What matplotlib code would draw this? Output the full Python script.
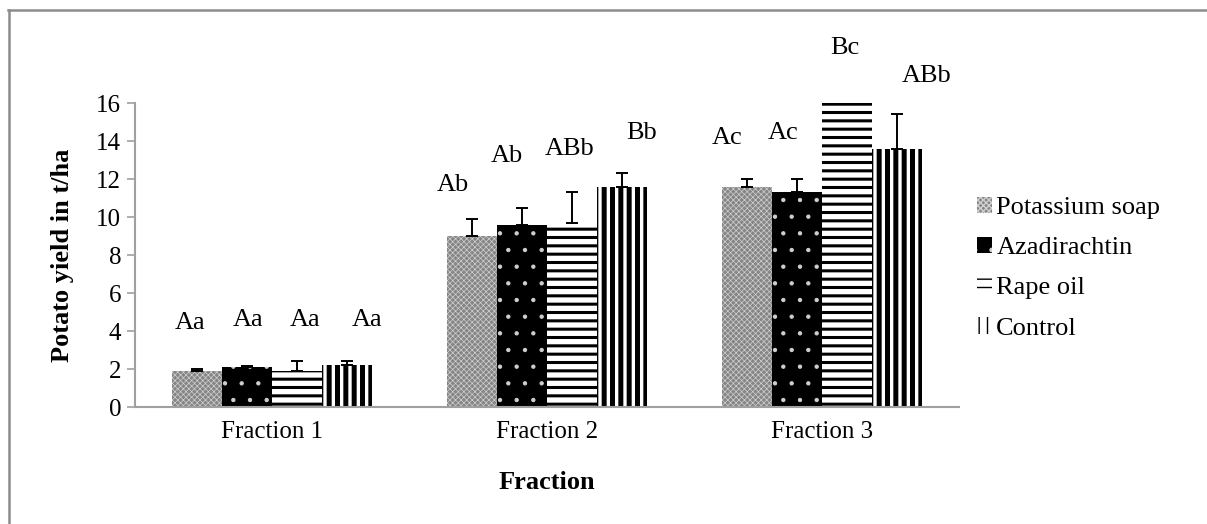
import matplotlib
matplotlib.use("Agg")
import matplotlib.pyplot as plt
import numpy as np

# ---- data ----
categories = ["Fraction 1", "Fraction 2", "Fraction 3"]
series = ["Potassium soap", "Azadirachtin", "Rape oil", "Control"]
potassium_soap = [1.9, 9.0, 11.6]
azadirachtin = [2.1, 9.6, 11.3]
rape_oil = [1.9, 9.7, 16.0]
control = [2.2, 11.6, 13.6]
potassium_soap_err = [0.1, 0.9, 0.4]
azadirachtin_err = [0.08, 0.85, 0.7]
rape_oil_err = [0.5, 1.6, 0.0]
control_err = [0.2, 0.7, 1.8]
labels_ps = ["Aa", "Ab", "Ac"]
labels_az = ["Aa", "Ab", "Ac"]
labels_ro = ["Aa", "ABb", "Bc"]
labels_ct = ["Aa", "Bb", "ABb"]
yticks = [0, 2, 4, 6, 8, 10, 12, 14, 16]

# ---- layout / style (not data) ----
label_y = [[4.4, 11.7, 14.15], [4.6, 13.2, 14.4], [4.6, 13.6, 18.9], [4.6, 14.4, 17.4]]
label_dx = [[-0.14, -0.38, -0.4], [0.02, -0.3, -0.28], [0.16, -0.04, -0.04], [0.4, 0.4, 0.6]]

plt.rcParams['font.family'] = ['Liberation Serif', 'DejaVu Serif']
FS = 18
LFS = 19

fig = plt.figure(figsize=(12.07, 5.24), dpi=100)
ax = fig.add_axes([135 / 1207, 1 - 407 / 524, (959 - 135) / 1207, (407 - 103) / 524])

x = np.arange(len(categories))
w = 50 / 275
offs = [-1.5, -0.5, 0.5, 1.5]
vals = [potassium_soap, azadirachtin, rape_oil, control]
errs = [potassium_soap_err, azadirachtin_err, rape_oil_err, control_err]
labs = [labels_ps, labels_az, labels_ro, labels_ct]
styles = [
    dict(facecolor='#858585', edgecolor='#d0d0d0', hatch='xxxxxx', hlw=0.5),
    dict(facecolor='black', edgecolor='#d0d0d0', hatch='.', hlw=0.7),
    dict(facecolor='white', edgecolor='black', hatch='--', hlw=2.2),
    dict(facecolor='white', edgecolor='black', hatch='||', hlw=3.6),
]

handles = []
for i in range(4):
    st = styles[i]
    with plt.rc_context({'hatch.linewidth': st['hlw']}):
        bars = ax.bar(x + offs[i] * w, vals[i], width=w, facecolor=st['facecolor'],
                      edgecolor=st['edgecolor'], hatch=st['hatch'], linewidth=0,
                      label=series[i], zorder=2)
    handles.append(bars)
    ax.errorbar(x + offs[i] * w, vals[i], yerr=[np.zeros(3), errs[i]], fmt='none',
                ecolor='black', elinewidth=1.4, capsize=4.5, capthick=1.4, zorder=3)
    for j in range(3):
        ax.text(x[j] + (offs[i] + label_dx[i][j]) * w, label_y[i][j], labs[i][j],
                ha='center', va='center', fontsize=LFS, clip_on=False)

ax.set_xlim(-0.5, 2.5)
ax.set_ylim(0, 16)
ax.set_yticks(yticks)
ax.set_xticks(x)
ax.set_xticklabels(categories, fontsize=FS)
ax.tick_params(axis='x', length=0, pad=10)
ax.tick_params(axis='y', length=6, width=1.2, color='#a0a0a0', labelsize=FS, pad=4)
for s in ['top', 'right']:
    ax.spines[s].set_visible(False)
for s in ['left', 'bottom']:
    ax.spines[s].set_color('#a0a0a0')
    ax.spines[s].set_linewidth(1.5)

ax.set_xlabel("Fraction", fontsize=LFS, fontweight='bold', labelpad=20)
ax.set_ylabel("Potato yield in t/ha", fontsize=LFS, fontweight='bold', labelpad=16)

leg = fig.legend(handles=handles, labels=series, loc='upper left',
                 bbox_to_anchor=(966 / 1207, 1 - 186 / 524), frameon=False,
                 fontsize=LFS, handlelength=0.6, handleheight=0.6, handletextpad=0.15,
                 labelspacing=0.66, borderaxespad=0)

# figure frame (top and left visible)
fig.add_artist(plt.Line2D([8 / 1207, 1.0], [1 - 10 / 524, 1 - 10 / 524],
                          transform=fig.transFigure, color='#8c8c8c', linewidth=1.8))
fig.add_artist(plt.Line2D([8.5 / 1207, 8.5 / 1207], [0, 1 - 10 / 524],
                          transform=fig.transFigure, color='#8c8c8c', linewidth=1.8))

fig.savefig("out.png", dpi=100)
